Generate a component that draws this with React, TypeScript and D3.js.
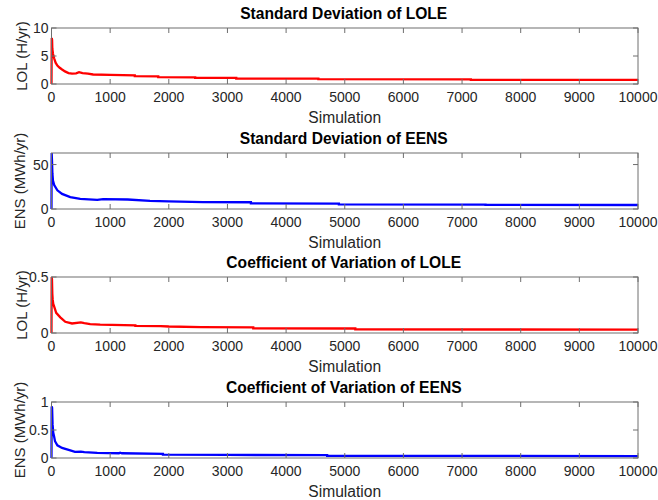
import React from "react";
import * as d3 from "d3";

// Running statistics vs. number of Monte Carlo simulations
const simDomain: [number, number] = [0, 10000];
const xTickValues = [0, 1000, 2000, 3000, 4000, 5000, 6000, 7000, 8000, 9000, 10000];

const stdLoleSeries: [number, number][] = [
  [0, 0], [4, 8.2], [10, 7.9], [14, 6.3], [25, 5.4], [45, 4.6], [70, 3.8], [100, 3.3],
  [140, 2.9], [180, 2.6], [230, 2.25], [290, 1.95], [350, 1.85], [420, 1.9], [470, 2.1],
  [530, 1.95], [620, 1.85], [710, 1.7], [1000, 1.62], [1420, 1.55], [1420, 1.42],
  [1820, 1.38], [1820, 1.24], [2450, 1.2], [2450, 1.1], [3150, 1.08], [3150, 0.97],
  [4550, 0.95], [4550, 0.86], [7150, 0.84], [7150, 0.74], [10000, 0.72],
];

const stdEensSeries: [number, number][] = [
  [0, 0], [3, 63], [8, 55], [15, 40], [25, 32], [46, 27], [100, 21], [180, 17],
  [320, 13.3], [490, 11.4], [780, 10.2], [880, 11.2], [1300, 10.7], [1680, 9.2],
  [2000, 8.6], [2580, 7.8], [3400, 7.6], [3400, 6.4], [4900, 6.1], [4900, 5.2],
  [7400, 5.0], [7400, 4.6], [10000, 4.5],
];

const cvLoleSeries: [number, number][] = [
  [0, 0], [3, 0.5], [8, 0.48], [14, 0.35], [20, 0.3], [30, 0.26], [46, 0.235],
  [80, 0.18], [150, 0.14], [235, 0.1], [350, 0.085], [500, 0.094], [560, 0.088],
  [660, 0.08], [830, 0.074], [1430, 0.068], [1430, 0.064], [1860, 0.062], [2000, 0.058],
  [2550, 0.052], [3440, 0.05], [3440, 0.042], [5180, 0.04], [5180, 0.033], [10000, 0.03],
];

const cvEensSeries: [number, number][] = [
  [0, 0], [3, 0.92], [10, 0.9], [18, 0.6], [30, 0.45], [46, 0.375], [60, 0.3],
  [100, 0.227], [180, 0.18], [320, 0.137], [400, 0.11], [500, 0.115], [560, 0.105],
  [780, 0.09], [1150, 0.085], [1170, 0.095], [1200, 0.085], [1900, 0.075], [1900, 0.06],
  [3000, 0.055], [4700, 0.05], [4700, 0.04], [10000, 0.035],
];

const panelTitles = [
  "Standard Deviation of LOLE",
  "Standard Deviation of EENS",
  "Coefficient of Variation of LOLE",
  "Coefficient of Variation of EENS",
];
const panelYLabels = ["LOL (H/yr)", "ENS (MWh/yr)", "LOL (H/yr)", "ENS (MWh/yr)"];
const panelYMax = [10, 63, 0.5, 1];
const panelYTicks = [[0, 5, 10], [0, 50], [0, 0.5], [0, 0.5, 1]];
const panelSeries = [stdLoleSeries, stdEensSeries, cvLoleSeries, cvEensSeries];
const panelColors = ["#ff0000", "#0000ff", "#ff0000", "#0000ff"];
const xLabel = "Simulation";

const W = 658;
const H = 500;
const left = 51.5;
const right = 638;
const panelTops = [28, 153, 277, 402];
const panelH = 56;
const tickLen = 5;
const font = "Arial, 'Liberation Sans', Helvetica, sans-serif";
const textColor = "#262626";
const axisColor = "#6e6e6e";

function Panel({ idx }: { idx: number }) {
  const top = panelTops[idx];
  const bottom = top + panelH;
  const x = d3.scaleLinear().domain(simDomain).range([left, right]);
  const y = d3.scaleLinear().domain([0, panelYMax[idx]]).range([bottom, top]);
  const line = d3
    .line<[number, number]>()
    .x((d) => x(d[0]))
    .y((d) => y(d[1]));
  const fmt = (v: number) => d3.format("~g")(v);
  const midY = (top + bottom) / 2;

  return (
    <g>
      <text
        x={(left + right) / 2 - 1}
        y={top - 9}
        textAnchor="middle"
        fontFamily={font}
        fontSize={15.6}
        fontWeight="bold"
        fill="#000"
      >
        {panelTitles[idx]}
      </text>
      <path
        d={line(panelSeries[idx]) || ""}
        fill="none"
        stroke={panelColors[idx]}
        strokeWidth={2.3}
        strokeLinejoin="miter"
      />
      <rect
        x={left}
        y={top}
        width={right - left}
        height={panelH}
        fill="none"
        stroke={axisColor}
        strokeWidth={1}
      />
      {xTickValues.map((t) => (
        <g key={"x" + t}>
          <line x1={x(t)} x2={x(t)} y1={bottom} y2={bottom - tickLen} stroke={axisColor} />
          <line x1={x(t)} x2={x(t)} y1={top} y2={top + tickLen} stroke={axisColor} />
          <text
            x={x(t)}
            y={bottom + 18}
            textAnchor="middle"
            fontFamily={font}
            fontSize={14}
            fill={textColor}
          >
            {fmt(t)}
          </text>
        </g>
      ))}
      {panelYTicks[idx].map((t) => (
        <g key={"y" + t}>
          <line x1={left} x2={left + tickLen} y1={y(t)} y2={y(t)} stroke={axisColor} />
          <line x1={right} x2={right - tickLen} y1={y(t)} y2={y(t)} stroke={axisColor} />
          <text
            x={left - 3}
            y={y(t) + 5}
            textAnchor="end"
            fontFamily={font}
            fontSize={14}
            fill={textColor}
          >
            {fmt(t)}
          </text>
        </g>
      ))}
      <text
        x={(left + right) / 2}
        y={bottom + 39}
        textAnchor="middle"
        fontFamily={font}
        fontSize={15.6}
        fill={textColor}
      >
        {xLabel}
      </text>
      <text
        transform={`translate(${idx % 2 === 0 ? 27 : 25},${midY}) rotate(-90)`}
        textAnchor="middle"
        fontFamily={font}
        fontSize={15}
        fill={textColor}
      >
        {panelYLabels[idx]}
      </text>
    </g>
  );
}

export default function App() {
  return (
    <svg
      width={W}
      height={H}
      style={{ position: "absolute", left: 0, top: 0, background: "#fff" }}
    >
      <rect x={0} y={0} width={W} height={H} fill="#fff" />
      {panelTitles.map((_, i) => (
        <Panel key={i} idx={i} />
      ))}
    </svg>
  );
}
